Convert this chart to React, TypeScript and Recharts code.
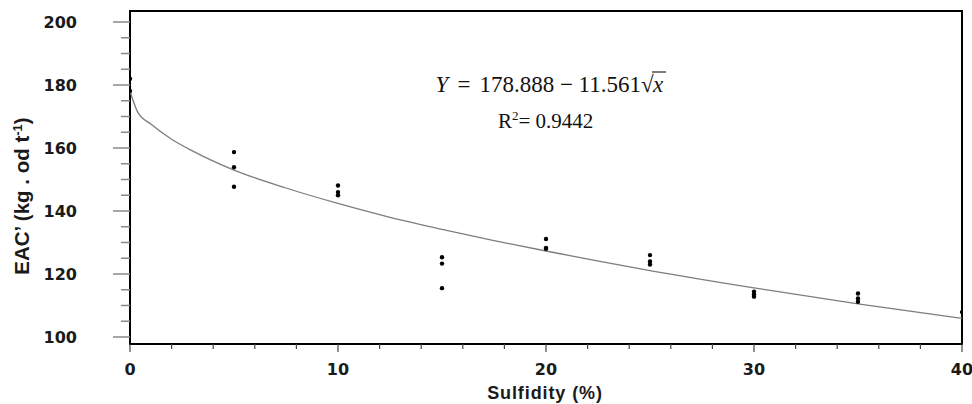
import React from 'react';
import { ComposedChart, Scatter, Line, XAxis, YAxis, ReferenceArea } from 'recharts';

// Observed data (three replicates per sulfidity level)
const sulfidity = [0, 5, 10, 15, 20, 25, 30, 35, 40];
const eacRep1 = [182.0, 158.7, 148.1, 125.3, 131.1, 126.0, 114.4, 113.8, 107.9];
const eacRep2 = [178.1, 153.9, 146.0, 123.3, 128.3, 124.0, 113.6, 112.2, null];
const eacRep3 = [null, 147.7, 145.0, 115.5, 128.0, 123.0, 112.8, 111.2, null];

// Fitted curve
const curveX = [0, 0.37, 1, 2, 3, 5, 7.5, 10, 12.5, 15, 17.5, 20, 25, 30, 35, 40];
const curveY = [178.1, 171.4, 167.6, 162.8, 159.1, 153.0, 147.3, 142.4, 138.0, 134.2, 130.6, 127.3, 121.1, 115.6, 110.5, 105.9];

const yTicks = [100, 105, 110, 115, 120, 125, 130, 135, 140, 145, 150, 155, 160, 165, 170, 175, 180, 185, 190, 195, 200];
const yLabelTicks = [100, 120, 140, 160, 180, 200];
const xTicks = [0, 2, 4, 6, 8, 10, 12, 14, 16, 18, 20, 22, 24, 26, 28, 30, 32, 34, 36, 38, 40];
const xLabelTicks = [0, 10, 20, 30, 40];

const xTitle = 'Sulfidity (%)';
const equationText = '178.888 − 11.561';
const r2Text = '= 0.9442';

const scatterData: { x: number; y: number }[] = [];
[eacRep1, eacRep2, eacRep3].forEach((rep) => {
  rep.forEach((v, i) => {
    if (v !== null) scatterData.push({ x: sulfidity[i], y: v as number });
  });
});
const curveData = curveX.map((x, i) => ({ x, y: curveY[i] }));

const tickFont = "'DejaVu Sans', Verdana, sans-serif";
const titleFont = "'Liberation Sans', Arial, sans-serif";
const mathFont = "'Liberation Serif', 'Times New Roman', serif";

const YTick = (props: any) => {
  const { x, y, payload } = props;
  const major = yLabelTicks.includes(payload.value);
  return (
    <g>
      <line x1={x - (major ? 17 : 9)} x2={x} y1={y} y2={y} stroke="#8a8a8a" strokeWidth={1.5} />
      {major && (
        <text x={x - 53} y={y} dy={6} textAnchor="end" fontFamily={tickFont} fontWeight="bold" fontSize={16} fill="#1a1a1a">
          {payload.value}
        </text>
      )}
    </g>
  );
};

const XTick = (props: any) => {
  const { x, y, payload } = props;
  const major = xLabelTicks.includes(payload.value);
  return (
    <g>
      <line x1={x} x2={x} y1={y} y2={y + (major ? 8 : 5)} stroke="#444" strokeWidth={1.2} />
      {major && (
        <text x={x} y={y + 31} textAnchor="middle" fontFamily={tickFont} fontWeight="bold" fontSize={16} fill="#1a1a1a">
          {payload.value}
        </text>
      )}
    </g>
  );
};

export default function App() {
  return (
    <div style={{ position: 'absolute', left: 0, top: 0, width: 972, height: 404, background: '#fff' }}>
      <ComposedChart width={972} height={404} margin={{ top: 11, right: 10, bottom: 10, left: 10 }}>
        <XAxis
          type="number"
          dataKey="x"
          domain={[0, 40]}
          ticks={xTicks}
          tick={<XTick />}
          tickLine={false}
          tickSize={0}
          tickMargin={0}
          axisLine={false}
          height={50}
          interval={0}
          allowDataOverflow
        />
        <YAxis
          type="number"
          dataKey="y"
          domain={[97.77, 203.5]}
          ticks={yTicks}
          tick={<YTick />}
          tickLine={false}
          tickSize={0}
          tickMargin={0}
          axisLine={false}
          width={120}
          interval={0}
          allowDataOverflow
        />
        <ReferenceArea x1={0} x2={40} y1={97.77} y2={203.5} fill="none" stroke="#000" strokeWidth={2} ifOverflow="visible" />
        <Line
          data={curveData}
          dataKey="y"
          type="monotone"
          stroke="#7d7d7d"
          strokeWidth={1.3}
          dot={false}
          activeDot={false}
          isAnimationActive={false}
        />
        <Scatter
          data={scatterData}
          dataKey="y"
          fill="#000"
          shape={(p: any) => <circle cx={p.cx} cy={p.cy} r={2.2} fill="#000" />}
          isAnimationActive={false}
        />
      </ComposedChart>
      <svg width={972} height={404} style={{ position: 'absolute', left: 0, top: 0, pointerEvents: 'none' }}>
        <text x={545} y={399} textAnchor="middle" fontFamily={titleFont} fontWeight="bold" fontSize={18} letterSpacing={0.9} fill="#1a1a1a">
          {xTitle}
        </text>
        <text transform="translate(29,196) rotate(-90)" textAnchor="middle" fontFamily={titleFont} fontWeight="bold" fontSize={20.5} fill="#1a1a1a">
          EAC’ (kg . od t<tspan dy={-7} fontSize={13}>-1</tspan><tspan dy={7}>)</tspan>
        </text>
        <text x={641} y={92} textAnchor="end" fontFamily={mathFont} fontSize={23} fill="#111">
          <tspan fontStyle="italic">Y</tspan>
          <tspan dx={9}>=</tspan>
          <tspan dx={9}>{equationText}</tspan>
        </text>
        <text x={641} y={92} fontFamily={mathFont} fontSize={23} fill="#111">√</text>
        <text x={653} y={92} fontFamily={mathFont} fontStyle="italic" fontSize={23} fill="#111">x</text>
        <line x1={652} x2={666} y1={72} y2={72} stroke="#111" strokeWidth={1.1} />
        <text x={498} y={128} fontFamily={mathFont} fontSize={21} fill="#111">
          R<tspan dy={-8} fontSize={13}>2</tspan><tspan dy={8}>{r2Text}</tspan>
        </text>
      </svg>
    </div>
  );
}
